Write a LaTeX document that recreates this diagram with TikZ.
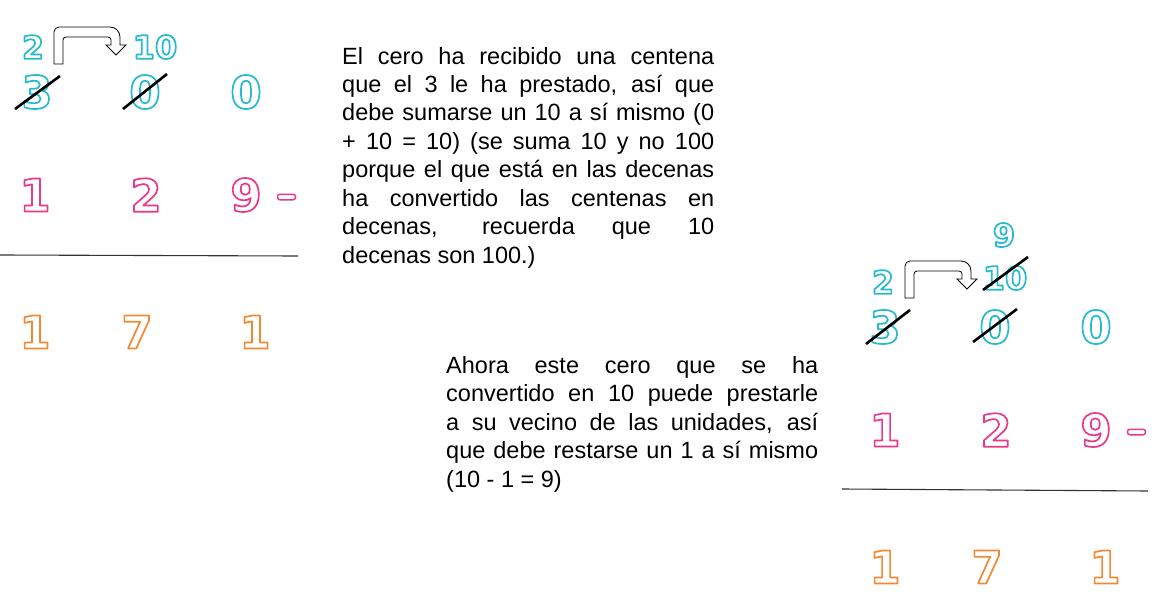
\documentclass[tikz,border=0pt]{standalone}
\usepackage{fontspec}
\setmainfont{Liberation Sans}
\newfontfamily\digfont{DejaVu Sans Bold}
\definecolor{dcyan}{RGB}{38,186,204}
\definecolor{dpink}{RGB}{236,56,138}
\definecolor{dorange}{RGB}{241,137,52}
\newcommand\outl[2]{{\color{#1}\special{pdf:literal direct 1 Tr 1.7 w 1 j}#2\special{pdf:literal direct 0 Tr}}}
\newcommand\cyd[1]{\outl{dcyan}{#1}}
\newcommand\pkd[1]{\outl{dpink}{#1}}
\newcommand\ord[1]{\outl{dorange}{#1}}
\tikzset{
  big/.style={inner sep=0pt, font=\digfont\fontsize{45}{45}\selectfont},
  small/.style={inner sep=0pt, font=\digfont\fontsize{32}{32}\selectfont},
  strike/.style={line width=2.6pt, black},
  txt/.style={inner sep=0pt, anchor=base west, font=\fontsize{23.5}{28}\selectfont},
  minusbar/.style={draw=dpink, fill=white, line width=1.5pt, rounded corners=2.4pt,
    minimum width=18pt, minimum height=5.5pt, inner sep=0pt},
  rulel/.style={line width=1.1pt, black!80},
  bentarr/.pic={
    \draw[line width=0.8pt, fill=white]
      (0,0) [rounded corners=5pt] -- (0,-37) [rounded corners=10pt] -- (66,-37)
      [sharp corners] -- (66,-19) -- (72,-19) -- (62,-9) -- (52,-19) -- (57,-19)
      [rounded corners=3pt] -- (57,-27) -- (9,-27) [sharp corners] -- (9,0) -- cycle;
  }
}
\begin{document}
\begin{tikzpicture}[x=1pt,y=-1pt]
\useasboundingbox (0,0) rectangle (1170,602);
\fill[white] (0,0) rectangle (1170,602);

% ---------- left panel ----------
\pic at (54,64) {bentarr};
\node[small] (l2) at (33,47) {\cyd{2}};
\node[small] (l10) at (155,47) {\cyd{10}};
\node[big] (l3) at (37,92) {\cyd{3}};
\node[big] (l0a) at (145,92) {\cyd{0}};
\node[big] (l0b) at (246,92) {\cyd{0}};
\draw[strike] (15,109) -- (60,76);
\draw[strike] (123,109) -- (167,74);
\node[big] (l1) at (35,195) {\pkd{1}};
\node[big] (l2b) at (146,195) {\pkd{2}};
\node[big] (l9) at (246,195) {\pkd{9}};
\node[minusbar] (lm) at (286.5,197) {};
\coordinate (lra) at (0,255);
\coordinate (lrb) at (298,256);
\draw[rulel] (lra) -- (lrb);
\node[big] (lr1) at (35,332) {\ord{1}};
\node[big] (lr7) at (137,332) {\ord{7}};
\node[big] (lr1b) at (255,332) {\ord{1}};

% ---------- paragraph 1 ----------
\node[txt] (a1) at (342,64) {\makebox[372pt][s]{El cero ha recibido una centena}};
\node[txt] (a2) at (342,92.4) {\makebox[372pt][s]{que el 3 le ha prestado, así que}};
\node[txt] (a3) at (342,120.9) {\makebox[372pt][s]{debe sumarse un 10 a sí mismo (0}};
\node[txt] (a4) at (342,149.3) {\makebox[372pt][s]{+ 10 = 10) (se suma 10 y no 100}};
\node[txt] (a5) at (342,177.7) {\makebox[372pt][s]{porque el que está en las decenas}};
\node[txt] (a6) at (342,206.2) {\makebox[372pt][s]{ha convertido las centenas en}};
\node[txt] (a7) at (342,234.6) {\makebox[372pt][s]{decenas, recuerda que 10}};
\node[txt] (a8) at (342,263) {decenas son 100.)};

% ---------- paragraph 2 ----------
\node[txt] (b1) at (446,373) {\makebox[372pt][s]{Ahora este cero que se ha}};
\node[txt] (b2) at (446,401.5) {\makebox[372pt][s]{convertido en 10 puede prestarle}};
\node[txt] (b3) at (446,430) {\makebox[372pt][s]{a su vecino de las unidades, así}};
\node[txt] (b4) at (446,458.5) {\makebox[372pt][s]{que debe restarse un 1 a sí mismo}};
\node[txt] (b5) at (446,487) {(10 - 1 = 9)};

% ---------- right panel ----------
\pic at (905,298) {bentarr};
\node[small] (r9) at (1004,235) {\cyd{9}};
\node[small] (r2) at (883,282) {\cyd{2}};
\node[small] (r10) at (1005,278) {\cyd{10}};
\draw[strike] (983,290) -- (1028,257);
\node[big] (r3) at (885,327) {\cyd{3}};
\node[big] (r0a) at (995,327) {\cyd{0}};
\node[big] (r0b) at (1096,327) {\cyd{0}};
\draw[strike] (866,344) -- (910,310);
\draw[strike] (973,342) -- (1017,309);
\node[big] (r1) at (885,430) {\pkd{1}};
\node[big] (r2b) at (996,430) {\pkd{2}};
\node[big] (r9b) at (1096,430) {\pkd{9}};
\node[minusbar] (rm) at (1136.5,432) {};
\coordinate (rra) at (842,489);
\coordinate (rrb) at (1148,491);
\draw[rulel] (rra) -- (rrb);
\node[big] (rr1) at (885,567) {\ord{1}};
\node[big] (rr7) at (987,567) {\ord{7}};
\node[big] (rr1b) at (1105,567) {\ord{1}};
\end{tikzpicture}
\end{document}
